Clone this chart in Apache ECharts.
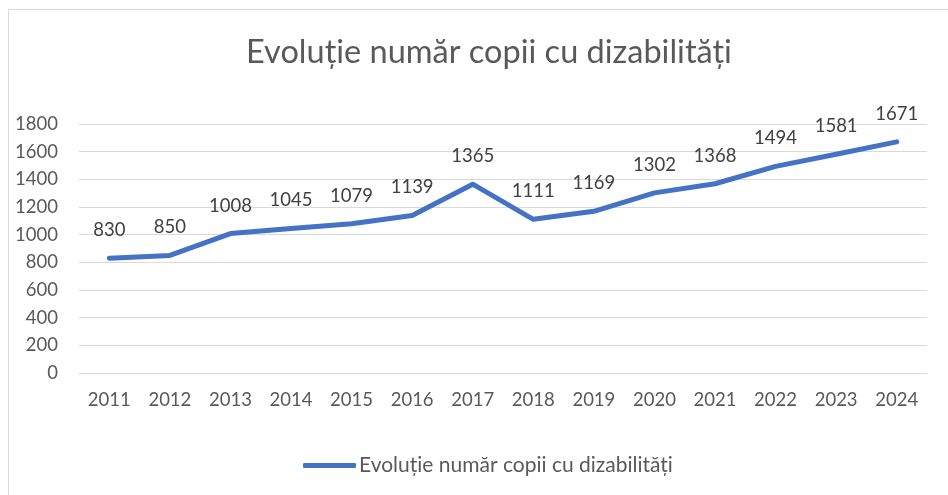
<!DOCTYPE html>
<html>

<head>
    <meta charset="utf-8" />
    <script src="https://cdn.jsdelivr.net/npm/echarts@6/dist/echarts.min.js"></script>
    <style>
        html, body { margin: 0; padding: 0; background: #fff; }
    </style>
</head>

<body>
    <div id="main" style="width: 948px;height:495px;"></div>
    <script type="text/javascript">
        const titleText = 'Evoluție număr copii cu dizabilități';
        const years = ['2011', '2012', '2013', '2014', '2015', '2016', '2017', '2018', '2019', '2020', '2021', '2022', '2023', '2024'];
        const copii = [830, 850, 1008, 1045, 1079, 1139, 1365, 1111, 1169, 1302, 1368, 1494, 1581, 1671];

        const myChart = echarts.init(document.getElementById('main'), null, { renderer: 'canvas' });
        const font = 'Lato, "Liberation Sans", sans-serif';

        const option = {
            animation: false,
            textStyle: { fontFamily: font },
            // chenarul graficului (marginea dreapta/jos iese din imagine)
            graphic: [{
                type: 'rect',
                silent: true,
                shape: { x: 8.5, y: 9.5, width: 980, height: 520 },
                style: { fill: 'none', stroke: '#d9d9d9', lineWidth: 1 }
            }],
            title: {
                text: titleText,
                left: 484,
                textAlign: 'center',
                top: 31,
                textStyle: { fontSize: 32.5, fontWeight: 'normal', color: '#595959', fontFamily: font }
            },
            legend: {
                top: 450,
                left: 298,
                itemWidth: 53,
                itemHeight: 5,
                icon: 'roundRect',
                itemStyle: { color: '#4472C4', opacity: 1 },
                textStyle: { fontSize: 21, color: '#595959', fontFamily: font, padding: [0, 0, 0, -2] },
                data: [titleText]
            },
            grid: { left: 79, right: 21, top: 124, bottom: 122 },
            xAxis: {
                type: 'category',
                data: years,
                boundaryGap: true,
                axisLine: { show: true, lineStyle: { color: '#d9d9d9' } },
                axisTick: { show: false },
                axisLabel: { fontSize: 18.5, color: '#595959', margin: 18, fontFamily: font }
            },
            yAxis: {
                type: 'value',
                min: 0,
                max: 1800,
                interval: 200,
                axisLine: { show: false },
                axisTick: { show: false },
                splitLine: { lineStyle: { color: '#d9d9d9', width: 1 } },
                axisLabel: {
                    fontSize: 18.5, color: '#595959', margin: 21, fontFamily: font,
                    formatter: function (v) { return String(v); }
                }
            },
            series: [{
                name: titleText,
                type: 'line',
                data: copii,
                showSymbol: true,
                symbol: 'circle',
                symbolSize: 1,
                lineStyle: { width: 5, color: '#4472C4', cap: 'round', join: 'round' },
                itemStyle: { color: '#4472C4', opacity: 0 },
                label: {
                    show: true,
                    position: 'top',
                    distance: 18,
                    fontSize: 18.5,
                    color: '#404040',
                    opacity: 1,
                    fontFamily: font
                }
            }]
        };

        myChart.setOption(option);
        window.addEventListener('resize', myChart.resize);
    </script>
</body>

</html>
